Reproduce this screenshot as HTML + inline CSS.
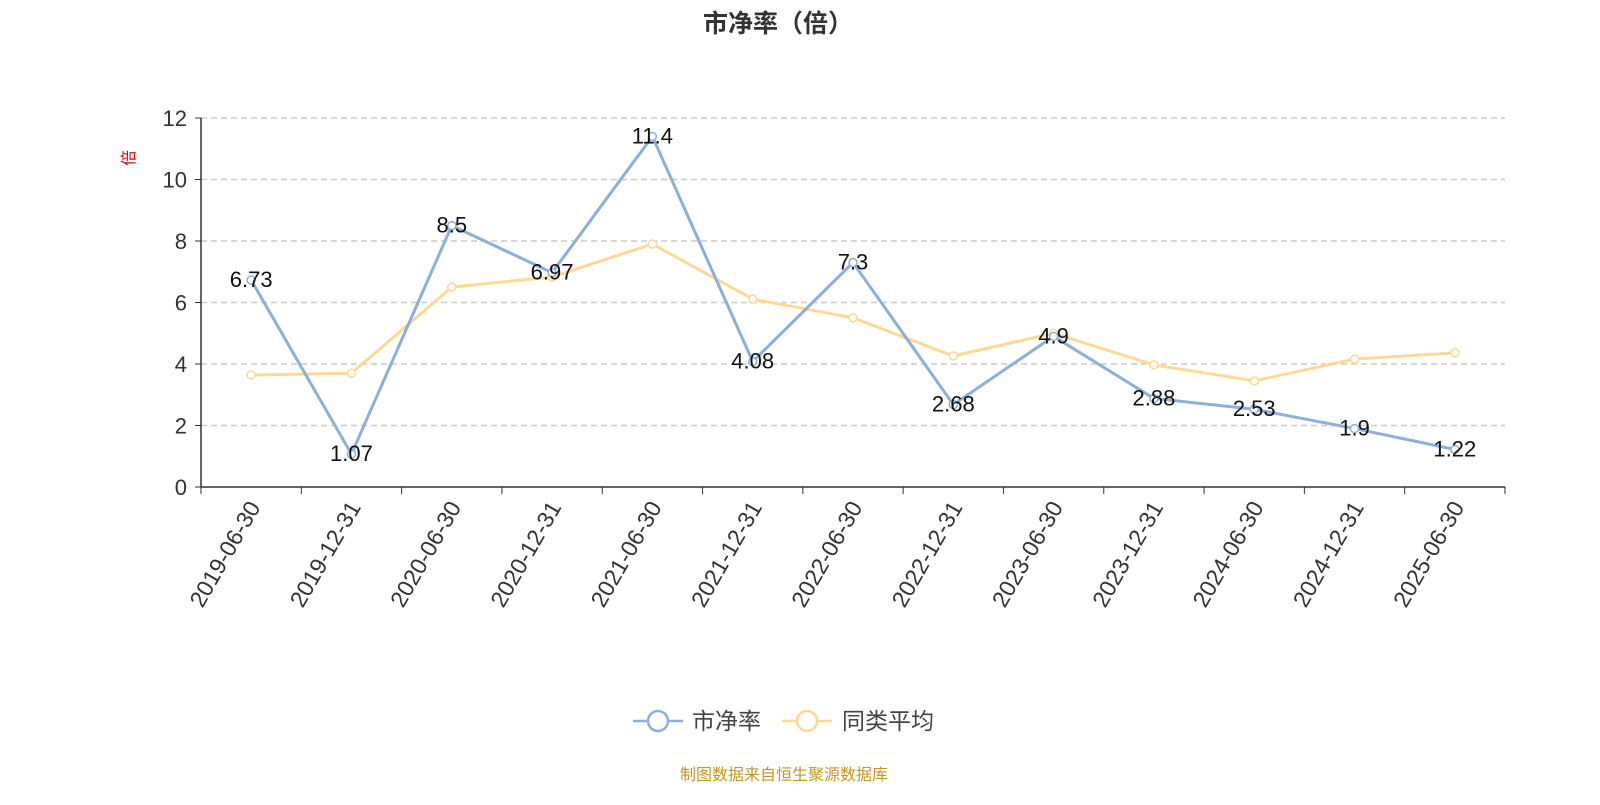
<!DOCTYPE html>
<html><head><meta charset="utf-8"><style>
body{margin:0;background:#fff;}
svg text{font-family:"Liberation Sans","Noto Sans CJK SC",sans-serif;}
</style></head><body>
<svg id="chart" width="1600" height="800" xmlns="http://www.w3.org/2000/svg">
<text x="778" y="32" text-anchor="middle" font-size="25" font-weight="bold" fill="#333">市净率（倍）</text>
<text transform="translate(134,158) rotate(-90)" text-anchor="middle" font-size="16" fill="#e00">倍</text>
<g id="grid"></g>
<g id="axes"></g>
<g id="series"></g>
<g>
 <g>
  <line x1="633" y1="721" x2="683" y2="721" stroke="#8eaedb" stroke-width="2.5"/>
  <circle cx="658" cy="721" r="10" fill="#fff" stroke="#8eaedb" stroke-width="2.5"/>
  <text x="692" y="729" font-size="23" fill="#444">市净率</text>
 </g>
 <g>
  <line x1="782" y1="721" x2="832" y2="721" stroke="#fcd995" stroke-width="2.5"/>
  <circle cx="807" cy="721" r="10" fill="#fff" stroke="#fcd995" stroke-width="2.5"/>
  <text x="842" y="729" font-size="23" fill="#444">同类平均</text>
 </g>
</g>
<text x="784" y="780" text-anchor="middle" font-size="16" fill="#c8961e">制图数据来自恒生聚源数据库</text>
</svg>
<script>
const categories=["2019-06-30","2019-12-31","2020-06-30","2020-12-31","2021-06-30","2021-12-31","2022-06-30","2022-12-31","2023-06-30","2023-12-31","2024-06-30","2024-12-31","2025-06-30"];
const pbValues=[6.73,1.07,8.5,6.97,11.4,4.08,7.3,2.68,4.9,2.88,2.53,1.9,1.22];
const peerValues=[3.64,3.7,6.5,6.83,7.9,6.11,5.5,4.26,5.0,3.97,3.45,4.16,4.36];
const yTicks=[0,2,4,6,8,10,12];
const NS="http://www.w3.org/2000/svg";
const L=201,R=1505,T=118,B=487,yMax=12;
const band=(R-L)/categories.length;
const xs=i=>L+band*(i+0.5);
const ys=v=>B-(v/yMax)*(B-T);
function mk(tag,attrs,parent){const e=document.createElementNS(NS,tag);for(const k in attrs)e.setAttribute(k,attrs[k]);parent.appendChild(e);return e;}
const grid=document.getElementById('grid'),axes=document.getElementById('axes'),series=document.getElementById('series');
yTicks.forEach(t=>{
 if(t>0){const g=mk('line',{x1:L,x2:R,y1:ys(t),y2:ys(t),stroke:'#ccc','stroke-dasharray':'6,4','stroke-width':1.5},grid);
 
 }
 const tk=mk('line',{x1:L-6,x2:L,y1:ys(t),y2:ys(t),stroke:'#333'},axes);
 
 
 const tx=mk('text',{x:L-14,y:ys(t)+8,'text-anchor':'end','font-size':22,fill:'#333'},axes);
 tx.textContent=t;
 
 
});
const ya=mk('line',{x1:L,x2:L,y1:T,y2:B,stroke:'#333','stroke-width':1.5},axes);


const xa=mk('line',{x1:L,x2:R,y1:B,y2:B,stroke:'#333','stroke-width':1.5},axes);


for(let i=0;i<=categories.length;i++){
 const x=L+band*i;
 const tk=mk('line',{x1:x,x2:x,y1:B,y2:B+7,stroke:'#333'},axes);
 
 
}
categories.forEach((c,i)=>{
 const tx=mk('text',{transform:`translate(${xs(i)+10},${B+20}) rotate(-60)`,'text-anchor':'end','font-size':23,fill:'#333'},axes);
 tx.textContent=c;
 
 
});
function drawSeries(vals,color,name,labels){
 const pts=vals.map((v,i)=>xs(i)+','+ys(v)).join(' ');
 const pl=mk('polyline',{points:pts,fill:'none',stroke:color,'stroke-width':3},series);
 
 
 vals.forEach((v,i)=>{
  const c=mk('circle',{cx:xs(i),cy:ys(v),r:4,fill:'#fff',stroke:color,'stroke-width':1.5},series);
  
  
 });
 if(labels)vals.forEach((v,i)=>{
  const t=mk('text',{x:xs(i),y:ys(v)+7,'text-anchor':'middle','font-size':22,fill:'#111'},series);
  t.textContent=v;
  
  
 });
}
drawSeries(peerValues,'#fcd995','peer-average',false);
drawSeries(pbValues,'#8eaedb','pb',true);
</script>
</body></html>
